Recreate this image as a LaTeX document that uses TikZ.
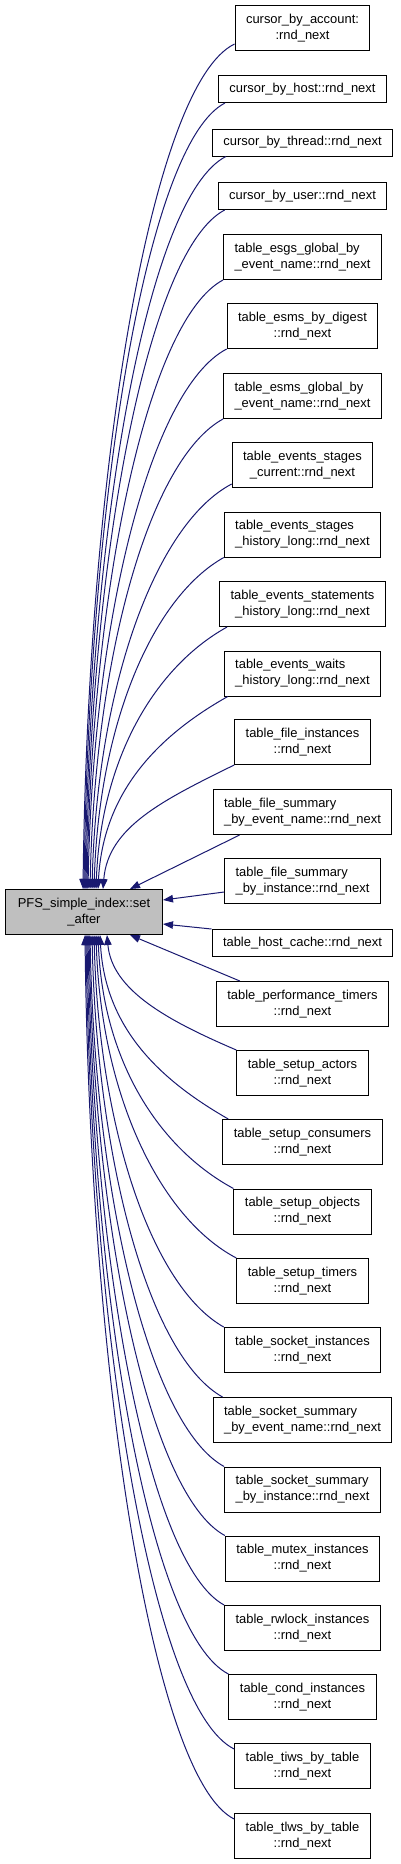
\documentclass[tikz,border=0pt]{standalone}
\usepackage{fontspec}
\setmainfont{Liberation Sans}
\usetikzlibrary{arrows.meta}
\definecolor{edgeblue}{HTML}{191970}
\definecolor{maingrey}{HTML}{BFBFBF}
\tikzset{
  box/.style={draw=black, line width=1pt, fill=white, inner xsep=11pt, inner ysep=0pt,
    minimum height=27pt, align=center,
    font=\fontsize{12.94pt}{16pt}\selectfont},
  box2/.style={box, minimum height=45pt},
  lbox/.style={box2, align=left},
  mainbox/.style={box2, fill=maingrey, minimum width=157pt},
  edge/.style={draw=edgeblue, line width=1pt, {Triangle[length=10pt,width=7.5pt]}-}
}
\begin{document}
\begin{tikzpicture}[x=1pt, y=-1pt]
\useasboundingbox (0,0) rectangle (400,1864);
\node[mainbox] (m) at (84,912) {PFS\_simple\_index::set\\\_after};
\node[box2] (n1) at (302.5,28) {cursor\_by\_account:\\:rnd\_next};
\node[box] (n2) at (302.5,89) {cursor\_by\_host::rnd\_next};
\node[box] (n3) at (302.5,142.5) {cursor\_by\_thread::rnd\_next};
\node[box] (n4) at (302.5,196) {cursor\_by\_user::rnd\_next};
\node[lbox] (n5) at (302.5,257) {table\_esgs\_global\_by\\\_event\_name::rnd\_next};
\node[box2] (n6) at (302.5,326) {table\_esms\_by\_digest\\::rnd\_next};
\node[lbox] (n7) at (302.5,396) {table\_esms\_global\_by\\\_event\_name::rnd\_next};
\node[box2] (n8) at (302.5,465) {table\_events\_stages\\\_current::rnd\_next};
\node[lbox] (n9) at (302.5,534.5) {table\_events\_stages\\\_history\_long::rnd\_next};
\node[box2] (n10) at (302.5,604) {table\_events\_statements\\\_history\_long::rnd\_next};
\node[lbox] (n11) at (302.5,673.5) {table\_events\_waits\\\_history\_long::rnd\_next};
\node[box2] (n12) at (302.5,742) {table\_file\_instances\\::rnd\_next};
\node[lbox] (n13) at (302.5,812) {table\_file\_summary\\\_by\_event\_name::rnd\_next};
\node[lbox] (n14) at (302.5,881) {table\_file\_summary\\\_by\_instance::rnd\_next};
\node[box] (n15) at (302.5,943) {table\_host\_cache::rnd\_next};
\node[box2] (n16) at (302.5,1004) {table\_performance\_timers\\::rnd\_next};
\node[box2] (n17) at (302.5,1073) {table\_setup\_actors\\::rnd\_next};
\node[box2] (n18) at (302.5,1142) {table\_setup\_consumers\\::rnd\_next};
\node[box2] (n19) at (302.5,1211.5) {table\_setup\_objects\\::rnd\_next};
\node[box2] (n20) at (302.5,1281) {table\_setup\_timers\\::rnd\_next};
\node[box2] (n21) at (302.5,1350) {table\_socket\_instances\\::rnd\_next};
\node[lbox] (n22) at (302.5,1420) {table\_socket\_summary\\\_by\_event\_name::rnd\_next};
\node[lbox] (n23) at (302.5,1489.5) {table\_socket\_summary\\\_by\_instance::rnd\_next};
\node[box2] (n24) at (302.5,1558.5) {table\_mutex\_instances\\::rnd\_next};
\node[box2] (n25) at (302.5,1628) {table\_rwlock\_instances\\::rnd\_next};
\node[box2] (n26) at (302.5,1697) {table\_cond\_instances\\::rnd\_next};
\node[box2] (n27) at (302.5,1766) {table\_tiws\_by\_table\\::rnd\_next};
\node[box2] (n28) at (302.5,1836) {table\_tlws\_by\_table\\::rnd\_next};
% edges into the top of the main node
\draw[edge] ([xshift=-1pt]m.north) .. controls +(5,-422) and +(-83,40) .. ([yshift=7pt]n1.south west);
\draw[edge] (m.north) .. controls +(5,-393) and +(-78,40) .. ([xshift=7pt]n2.south west);
\draw[edge] ([xshift=1pt]m.north) .. controls +(5,-366) and +(-78,40) .. ([xshift=14pt]n3.south west);
\draw[edge] ([xshift=2pt]m.north) .. controls +(5,-340) and +(-76,40) .. ([xshift=7pt]n4.south west);
\draw[edge] ([xshift=3pt]m.north) .. controls +(5,-305) and +(-75,40) .. (n5.south west);
\draw[edge] ([xshift=4pt]m.north) .. controls +(5,-270) and +(-76,40) .. (n6.south west);
\draw[edge] ([xshift=6pt]m.north) .. controls +(5,-235) and +(-73,40) .. (n7.south west);
\draw[edge] ([xshift=8pt]m.north) .. controls +(5,-203) and +(-76,40) .. ([yshift=4pt]n8.south west);
\draw[edge] ([xshift=10pt]m.north) .. controls +(5,-166) and +(-71,40) .. (n9.south west);
\draw[edge] ([xshift=12pt]m.north) .. controls +(5,-131) and +(-72,40) .. ([xshift=8pt]n10.south west);
\draw[edge] ([xshift=14pt]m.north) .. controls +(5,-96) and +(-71,40) .. ([xshift=4pt]n11.south west);
\draw[edge] ([xshift=19pt]m.north) .. controls +(5,-62) and +(-71,35) .. (n12.south west);
\draw[edge] ([xshift=46pt]m.north) -- ([xshift=27pt]n13.south west);
% edges into the right side
\draw[edge] ([yshift=12pt]m.east) -- ([yshift=-11pt]n14.west);
\draw[edge] ([yshift=-12pt]m.east) -- (n15.north west);
% edges into the bottom
\draw[edge] ([xshift=46pt]m.south) -- ([xshift=24pt]n16.north west);
\draw[edge] ([xshift=23pt]m.south) .. controls +(5,55) and +(-70,-30) .. (n17.north west);
\draw[edge] ([xshift=16pt]m.south) .. controls +(5,92) and +(-70,-40) .. ([xshift=6pt]n18.north west);
\draw[edge] ([xshift=14pt]m.south) .. controls +(5,127) and +(-74,-40) .. (n19.north west);
\draw[edge] ([xshift=12pt]m.south) .. controls +(5,161) and +(-76,-40) .. (n20.north west);
\draw[edge] ([xshift=10pt]m.south) .. controls +(5,196) and +(-71,-40) .. (n21.north west);
\draw[edge] ([xshift=8pt]m.south) .. controls +(5,231) and +(-72,-40) .. ([xshift=10pt]n22.north west);
\draw[edge] ([xshift=6pt]m.south) .. controls +(5,266) and +(-73,-40) .. (n23.north west);
\draw[edge] ([xshift=5pt]m.south) .. controls +(5,300) and +(-74,-40) .. (n24.north west);
\draw[edge] ([xshift=4pt]m.south) .. controls +(5,335) and +(-74,-40) .. (n25.north west);
\draw[edge] ([xshift=3pt]m.south) .. controls +(5,370) and +(-78,-40) .. (n26.north west);
\draw[edge] ([xshift=2pt]m.south) .. controls +(5,407) and +(-81,-40) .. ([yshift=-6pt]n27.north west);
\draw[edge] ([xshift=1pt]m.south) .. controls +(5,442) and +(-81,-40) .. ([yshift=-6pt]n28.north west);
\end{tikzpicture}
\end{document}
